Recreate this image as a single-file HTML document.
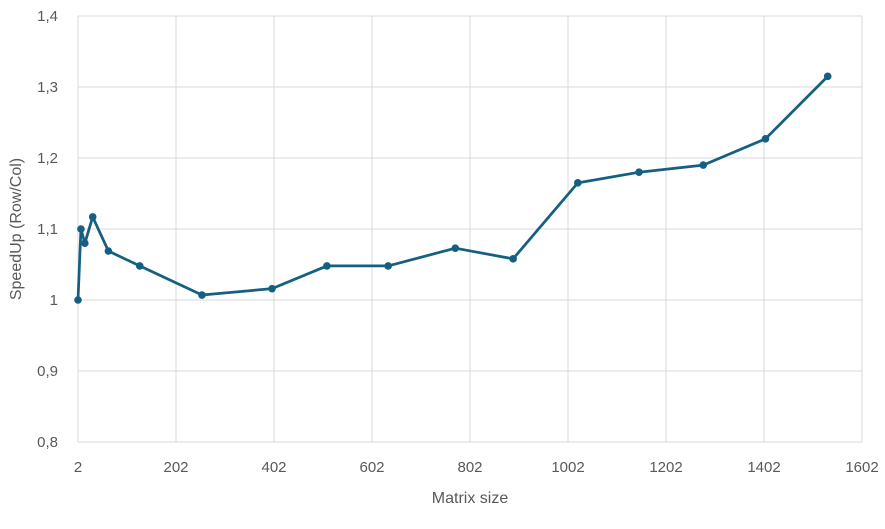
<!DOCTYPE html>
<html><head><meta charset="utf-8"><style>
body{margin:0;background:#fff;font-family:"Liberation Sans",sans-serif;}
</style></head><body>
<svg id="c" width="885" height="524" xmlns="http://www.w3.org/2000/svg"></svg>
<script>
const sizes=[2,8,16,32,64,128,255,398,510,635,772,890,1022,1147,1278,1405,1532];
const speedups=[1.0,1.1,1.08,1.117,1.069,1.048,1.007,1.016,1.048,1.048,1.073,1.058,1.165,1.18,1.19,1.227,1.315];
const xTicks=[2,202,402,602,802,1002,1202,1402,1602];
const yTicks=[0.8,0.9,1.0,1.1,1.2,1.3,1.4];
const yLabels=["0,8","0,9","1","1,1","1,2","1,3","1,4"];
const L=78,R=862,T=16,B=442;
const sx=v=>L+(v-2)/1600*(R-L);
const sy=v=>B-(v-0.8)/0.6*(B-T);
const svg=document.getElementById('c');const NS="http://www.w3.org/2000/svg";
function mk(t,a,p){const e=document.createElementNS(NS,t);for(const k in a)e.setAttribute(k,a[k]);(p||svg).appendChild(e);return e;}
const grid=mk('g',{});


xTicks.forEach(v=>{mk('line',{x1:sx(v),x2:sx(v),y1:T,y2:B,stroke:'#d9d9d9','stroke-width':1},grid);
const t=mk('text',{x:sx(v),y:B+30,'text-anchor':'middle','font-size':15,fill:'#595959'});t.textContent=v;

});
yTicks.forEach((v,i)=>{mk('line',{x1:L,x2:R,y1:sy(v),y2:sy(v),stroke:'#d9d9d9','stroke-width':1},grid);
const t=mk('text',{x:L-20,y:sy(v)+5,'text-anchor':'end','font-size':15,fill:'#595959'});t.textContent=yLabels[i];

});
const xt=mk('text',{x:(L+R)/2,y:503,'text-anchor':'middle','font-size':16,fill:'#595959'});xt.textContent='Matrix size';


const yt=mk('text',{x:21,y:(T+B)/2,'text-anchor':'middle','font-size':16,fill:'#595959',transform:`rotate(-90 21 ${(T+B)/2})`});yt.textContent='SpeedUp (Row/Col)';


const pts=sizes.map((s,i)=>sx(s)+','+sy(speedups[i])).join(' ');
const ln=mk('polyline',{points:pts,fill:'none',stroke:'#156082','stroke-width':2.75,'stroke-linejoin':'round'});


sizes.forEach((s,i)=>{const c=mk('circle',{cx:sx(s),cy:sy(speedups[i]),r:3.8,fill:'#156082'});

});
</script>
</body></html>
